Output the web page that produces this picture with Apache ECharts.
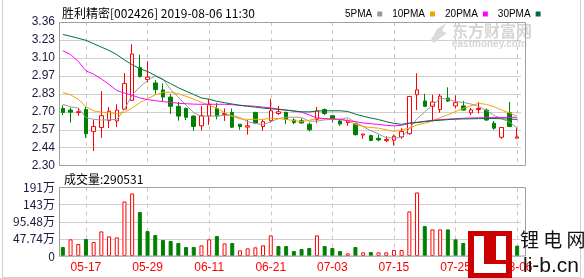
<!DOCTYPE html>
<html><head><meta charset="utf-8">
<script src="https://cdn.jsdelivr.net/npm/echarts@6/dist/echarts.min.js"></script>
<style>html,body{margin:0;padding:0;background:#fff}#c{width:584px;height:278px}</style>
</head><body><div id="c"></div>
<script>
const dates = ['05-14','05-15','05-16','05-17','05-20','05-21','05-22','05-23','05-24','05-27','05-28','05-29','05-30','05-31','06-03','06-04','06-05','06-06','06-10','06-11','06-12','06-13','06-14','06-17','06-18','06-19','06-20','06-21','06-24','06-25','06-26','06-27','06-28','07-01','07-02','07-03','07-04','07-05','07-08','07-09','07-10','07-11','07-12','07-15','07-16','07-17','07-18','07-19','07-22','07-23','07-24','07-25','07-26','07-29','07-30','07-31','08-01','08-02','08-05','08-06'];
const opens = [2.722,2.710,2.693,2.714,2.553,2.582,2.632,2.630,2.717,2.782,3.023,2.936,2.910,2.859,2.806,2.738,2.722,2.666,2.594,2.666,2.722,2.678,2.693,2.606,2.585,2.693,2.589,2.632,2.685,2.693,2.637,2.632,2.606,2.642,2.714,2.669,2.630,2.618,2.606,2.526,2.522,2.502,2.485,2.488,2.512,2.536,2.823,2.777,2.738,2.714,2.799,2.741,2.741,2.690,2.714,2.710,2.613,2.510,2.690,2.503];
const closes = [2.693,2.695,2.698,2.536,2.589,2.669,2.702,2.710,2.907,3.124,2.958,2.953,2.861,2.806,2.738,2.666,2.657,2.589,2.669,2.753,2.666,2.685,2.584,2.589,2.594,2.613,2.625,2.705,2.698,2.642,2.618,2.615,2.565,2.705,2.685,2.642,2.608,2.632,2.529,2.534,2.486,2.490,2.493,2.517,2.553,2.811,2.859,2.738,2.770,2.813,2.777,2.765,2.710,2.712,2.722,2.637,2.577,2.582,2.589,2.512];
const lows = [2.673,2.618,2.669,2.505,2.408,2.505,2.577,2.584,2.710,2.777,2.950,2.914,2.830,2.777,2.681,2.632,2.637,2.558,2.560,2.601,2.642,2.630,2.577,2.565,2.529,2.613,2.558,2.618,2.673,2.606,2.606,2.613,2.553,2.613,2.673,2.618,2.594,2.594,2.522,2.498,2.481,2.481,2.474,2.449,2.498,2.529,2.710,2.734,2.625,2.690,2.770,2.722,2.710,2.673,2.685,2.630,2.565,2.498,2.584,2.503];
const highs = [2.746,2.729,2.726,2.734,2.637,2.849,2.734,2.753,2.984,3.196,3.119,3.071,2.931,2.907,2.830,2.770,2.729,2.673,2.738,2.794,2.763,2.722,2.722,2.606,2.637,2.698,2.642,2.794,2.741,2.698,2.649,2.649,2.618,2.734,2.722,2.673,2.637,2.642,2.613,2.534,2.529,2.529,2.517,2.529,2.577,2.811,2.982,2.830,2.823,2.830,2.878,2.818,2.777,2.726,2.770,2.722,2.630,2.582,2.770,2.577];
const volumes = [250000,464000,334000,473000,389000,686000,547000,519000,1520000,1743000,1224000,695000,584000,445000,417000,362000,250000,250000,297000,464000,556000,352000,362000,158000,213000,241000,297000,575000,278000,278000,139000,195000,222000,575000,278000,222000,139000,74000,250000,102000,111000,102000,102000,167000,167000,1242000,1771000,834000,742000,742000,742000,464000,362000,280000,334000,300000,250000,352000,400000,290531];
const ma5 = [2.753,2.734,2.726,2.655,2.642,2.637,2.639,2.641,2.715,2.822,2.880,2.930,2.961,2.940,2.863,2.805,2.746,2.691,2.664,2.667,2.667,2.672,2.671,2.655,2.624,2.613,2.601,2.625,2.647,2.657,2.658,2.656,2.628,2.629,2.638,2.642,2.641,2.654,2.619,2.589,2.558,2.534,2.506,2.504,2.508,2.573,2.647,2.696,2.746,2.798,2.791,2.773,2.767,2.755,2.737,2.709,2.671,2.646,2.621,2.579];
const ma10 = [2.840,2.823,2.790,2.735,2.705,2.695,2.690,2.685,2.693,2.725,2.765,2.795,2.822,2.842,2.842,2.830,2.812,2.790,2.768,2.745,2.725,2.690,2.663,2.645,2.642,2.642,2.642,2.649,2.648,2.642,2.632,2.625,2.635,2.648,2.645,2.642,2.640,2.632,2.605,2.589,2.582,2.577,2.565,2.553,2.565,2.577,2.600,2.613,2.630,2.655,2.675,2.700,2.722,2.742,2.760,2.752,2.735,2.710,2.690,2.665];
const ma20 = [3.148,3.120,3.070,3.000,2.975,2.940,2.900,2.855,2.835,2.820,2.800,2.787,2.780,2.772,2.768,2.760,2.757,2.754,2.753,2.753,2.753,2.753,2.750,2.746,2.742,2.738,2.732,2.726,2.718,2.710,2.704,2.695,2.675,2.652,2.648,2.645,2.643,2.632,2.625,2.615,2.610,2.604,2.598,2.594,2.598,2.612,2.620,2.628,2.635,2.640,2.643,2.647,2.650,2.652,2.653,2.654,2.655,2.656,2.657,2.657];
const ma30 = [3.268,3.255,3.240,3.225,3.200,3.175,3.150,3.120,3.080,3.045,3.015,2.995,2.965,2.935,2.905,2.875,2.850,2.825,2.800,2.790,2.775,2.765,2.755,2.745,2.738,2.732,2.725,2.720,2.715,2.710,2.703,2.698,2.697,2.703,2.705,2.705,2.705,2.700,2.680,2.665,2.652,2.640,2.625,2.612,2.605,2.615,2.618,2.625,2.632,2.635,2.640,2.643,2.645,2.646,2.647,2.648,2.648,2.646,2.644,2.642];
const priceTicks = ['2.30','2.44','2.57','2.70','2.83','2.97','3.10','3.23','3.36'];
const volTicks = ['0','47.74万','95.48万','143万','191万'];
const title = '胜利精密[002426] 2019-08-06 11:30';
const volTitle = '成交量:290531';

const UP = '#ff0000', DOWN = '#008000';
const pMin = 2.30, pMax = 3.36, pStep = (pMax - pMin) / 8;
const vMax = 1909600, vStep = vMax / 4;
const NUM = 'Liberation Sans, Arial, sans-serif';
const CJK = '"Noto Sans CJK SC", "Liberation Sans", sans-serif';
const labelIdx = (i) => (i - 3) % 8 === 0;

const candleData = dates.map((d, i) => [opens[i], closes[i], lows[i], highs[i]]);
const volData = volumes.map((v, i) => {
  const up = i === 0 ? false : closes[i] >= closes[i - 1];
  return { value: v, itemStyle: up ? { color: '#fff', borderColor: UP, borderWidth: 1 } : { color: DOWN, borderColor: DOWN, borderWidth: 1 } };
});

const chart = echarts.init(document.getElementById('c'), null, { renderer: 'canvas' });
const xCommon = {
  type: 'category', data: dates, boundaryGap: true,
  axisLine: { show: false }, axisTick: { show: false },
  splitLine: { show: true, interval: labelIdx, alignWithLabel: true, lineStyle: { type: [4, 4], color: '#c8c8c8', width: 1 } }
};
chart.setOption({
  animation: false,
  title: [
    { text: title, left: 57, top: 2, textStyle: { fontSize: 12, fontWeight: 'normal', color: '#000', fontFamily: CJK } },
    { text: volTitle, left: 59, top: 168, textStyle: { fontSize: 12, fontWeight: 'normal', color: '#000', fontFamily: CJK } }
  ],
  legend: {
    left: 340, top: 4, align: 'right', icon: 'rect', itemWidth: 5, itemHeight: 5, itemGap: 10,
    textStyle: { fontSize: 10, color: '#000', fontFamily: NUM, padding: [0, 0, 0, 0] },
    data: ['5PMA', '10PMA', '20PMA', '30PMA']
  },
  grid: [
    { left: 59, top: 22, width: 462, height: 143.7 },
    { left: 59, top: 187.5, width: 462, height: 68.5 }
  ],
  xAxis: [
    Object.assign({ gridIndex: 0, axisLabel: { show: false } }, xCommon),
    Object.assign({ gridIndex: 1, axisLabel: { show: true, interval: labelIdx, color: '#ff0000', fontSize: 12, fontFamily: NUM, margin: 6 } }, xCommon)
  ],
  yAxis: [
    { gridIndex: 0, type: 'value', min: pMin, max: pMax, interval: pStep, axisLine: { show: false }, axisTick: { show: false },
      axisLabel: { color: '#1a1a40', fontSize: 12, fontFamily: NUM, margin: 4, formatter: (v) => priceTicks[Math.round((v - pMin) / pStep)] },
      splitLine: { show: true, lineStyle: { color: '#d0d0d0', width: 1 } } },
    { gridIndex: 1, type: 'value', min: 0, max: vMax, interval: vStep, axisLine: { show: false }, axisTick: { show: false },
      axisLabel: { color: '#1a1a40', fontSize: 12, fontFamily: CJK, margin: 4, formatter: (v) => volTicks[Math.round(v / vStep)] },
      splitLine: { show: true, lineStyle: { color: '#d0d0d0', width: 1 } } }
  ],
  series: [
    { type: 'candlestick', xAxisIndex: 0, yAxisIndex: 0, data: candleData, barWidth: 4,
      itemStyle: { color: '#fff', color0: DOWN, borderColor: UP, borderColor0: DOWN, borderWidth: 1 } },
    { name: '5PMA', type: 'line', data: ma5, symbol: 'none', color: '#9a9a9a', lineStyle: { width: 1, color: '#9a9a9a' } },
    { name: '10PMA', type: 'line', data: ma10, symbol: 'none', color: '#f5a300', lineStyle: { width: 1, color: '#f5a300' } },
    { name: '20PMA', type: 'line', data: ma20, symbol: 'none', color: '#ff00ff', lineStyle: { width: 1, color: '#ff00ff' } },
    { name: '30PMA', type: 'line', data: ma30, symbol: 'none', color: '#006f3a', lineStyle: { width: 1, color: '#006f3a' } },
    { type: 'bar', xAxisIndex: 1, yAxisIndex: 1, data: volData, barWidth: 4 }
  ],
  graphic: [
    { type: 'rect', silent: true, z: 100, shape: { x: 59.5, y: 22.5, width: 466, height: 143 }, style: { fill: 'none', stroke: '#a0a0a0', lineWidth: 1 } },
    { type: 'rect', silent: true, z: 100, shape: { x: 59.5, y: 187.5, width: 466, height: 68.5 }, style: { fill: 'none', stroke: '#a0a0a0', lineWidth: 1 } },
    { type: 'polyline', silent: true, z: 100, shape: { points: [[2.5, 0], [2.5, 277.5], [580.5, 277.5], [580.5, 0]] }, style: { fill: 'none', stroke: '#d0d0d0', lineWidth: 1 } },
    { type: 'polygon', silent: true, z: 50, shape: { points: [[431, 40], [437, 29], [446, 23], [442, 31], [447, 33], [440, 38], [434, 43]] }, style: { fill: '#dadada' } },
    { type: 'text', silent: true, z: 50, left: 452, top: 23, style: { text: '东方财富网', font: 'bold 16px "Noto Sans CJK SC"', fill: '#d6d6d6' } },
    { type: 'text', silent: true, z: 50, left: 452, top: 39, style: { text: 'eastmoney.com', font: 'bold 10px "Liberation Sans"', fill: '#d6d6d6' } },
    { type: 'rect', silent: true, z: 120, shape: { x: 468, y: 231, width: 44, height: 47 }, style: { fill: '#cc0000' } },
    { type: 'rect', silent: true, z: 121, shape: { x: 474, y: 236, width: 10, height: 37 }, style: { fill: '#fff' } },
    { type: 'rect', silent: true, z: 121, shape: { x: 474, y: 264, width: 32, height: 9 }, style: { fill: '#fff' } },
    { type: 'rect', silent: true, z: 121, shape: { x: 496, y: 236, width: 10, height: 24 }, style: { fill: '#fff' } },
    { type: 'text', silent: true, z: 120, left: 520, top: 230, style: { text: '锂 电 网', font: '19px "Noto Sans CJK SC"', fill: '#111' } },
    { type: 'text', silent: true, z: 120, left: 523, top: 256, style: { text: 'li-b.cn', font: '21px "Liberation Sans"', fill: '#111' } }
  ]
});
</script></body></html>
